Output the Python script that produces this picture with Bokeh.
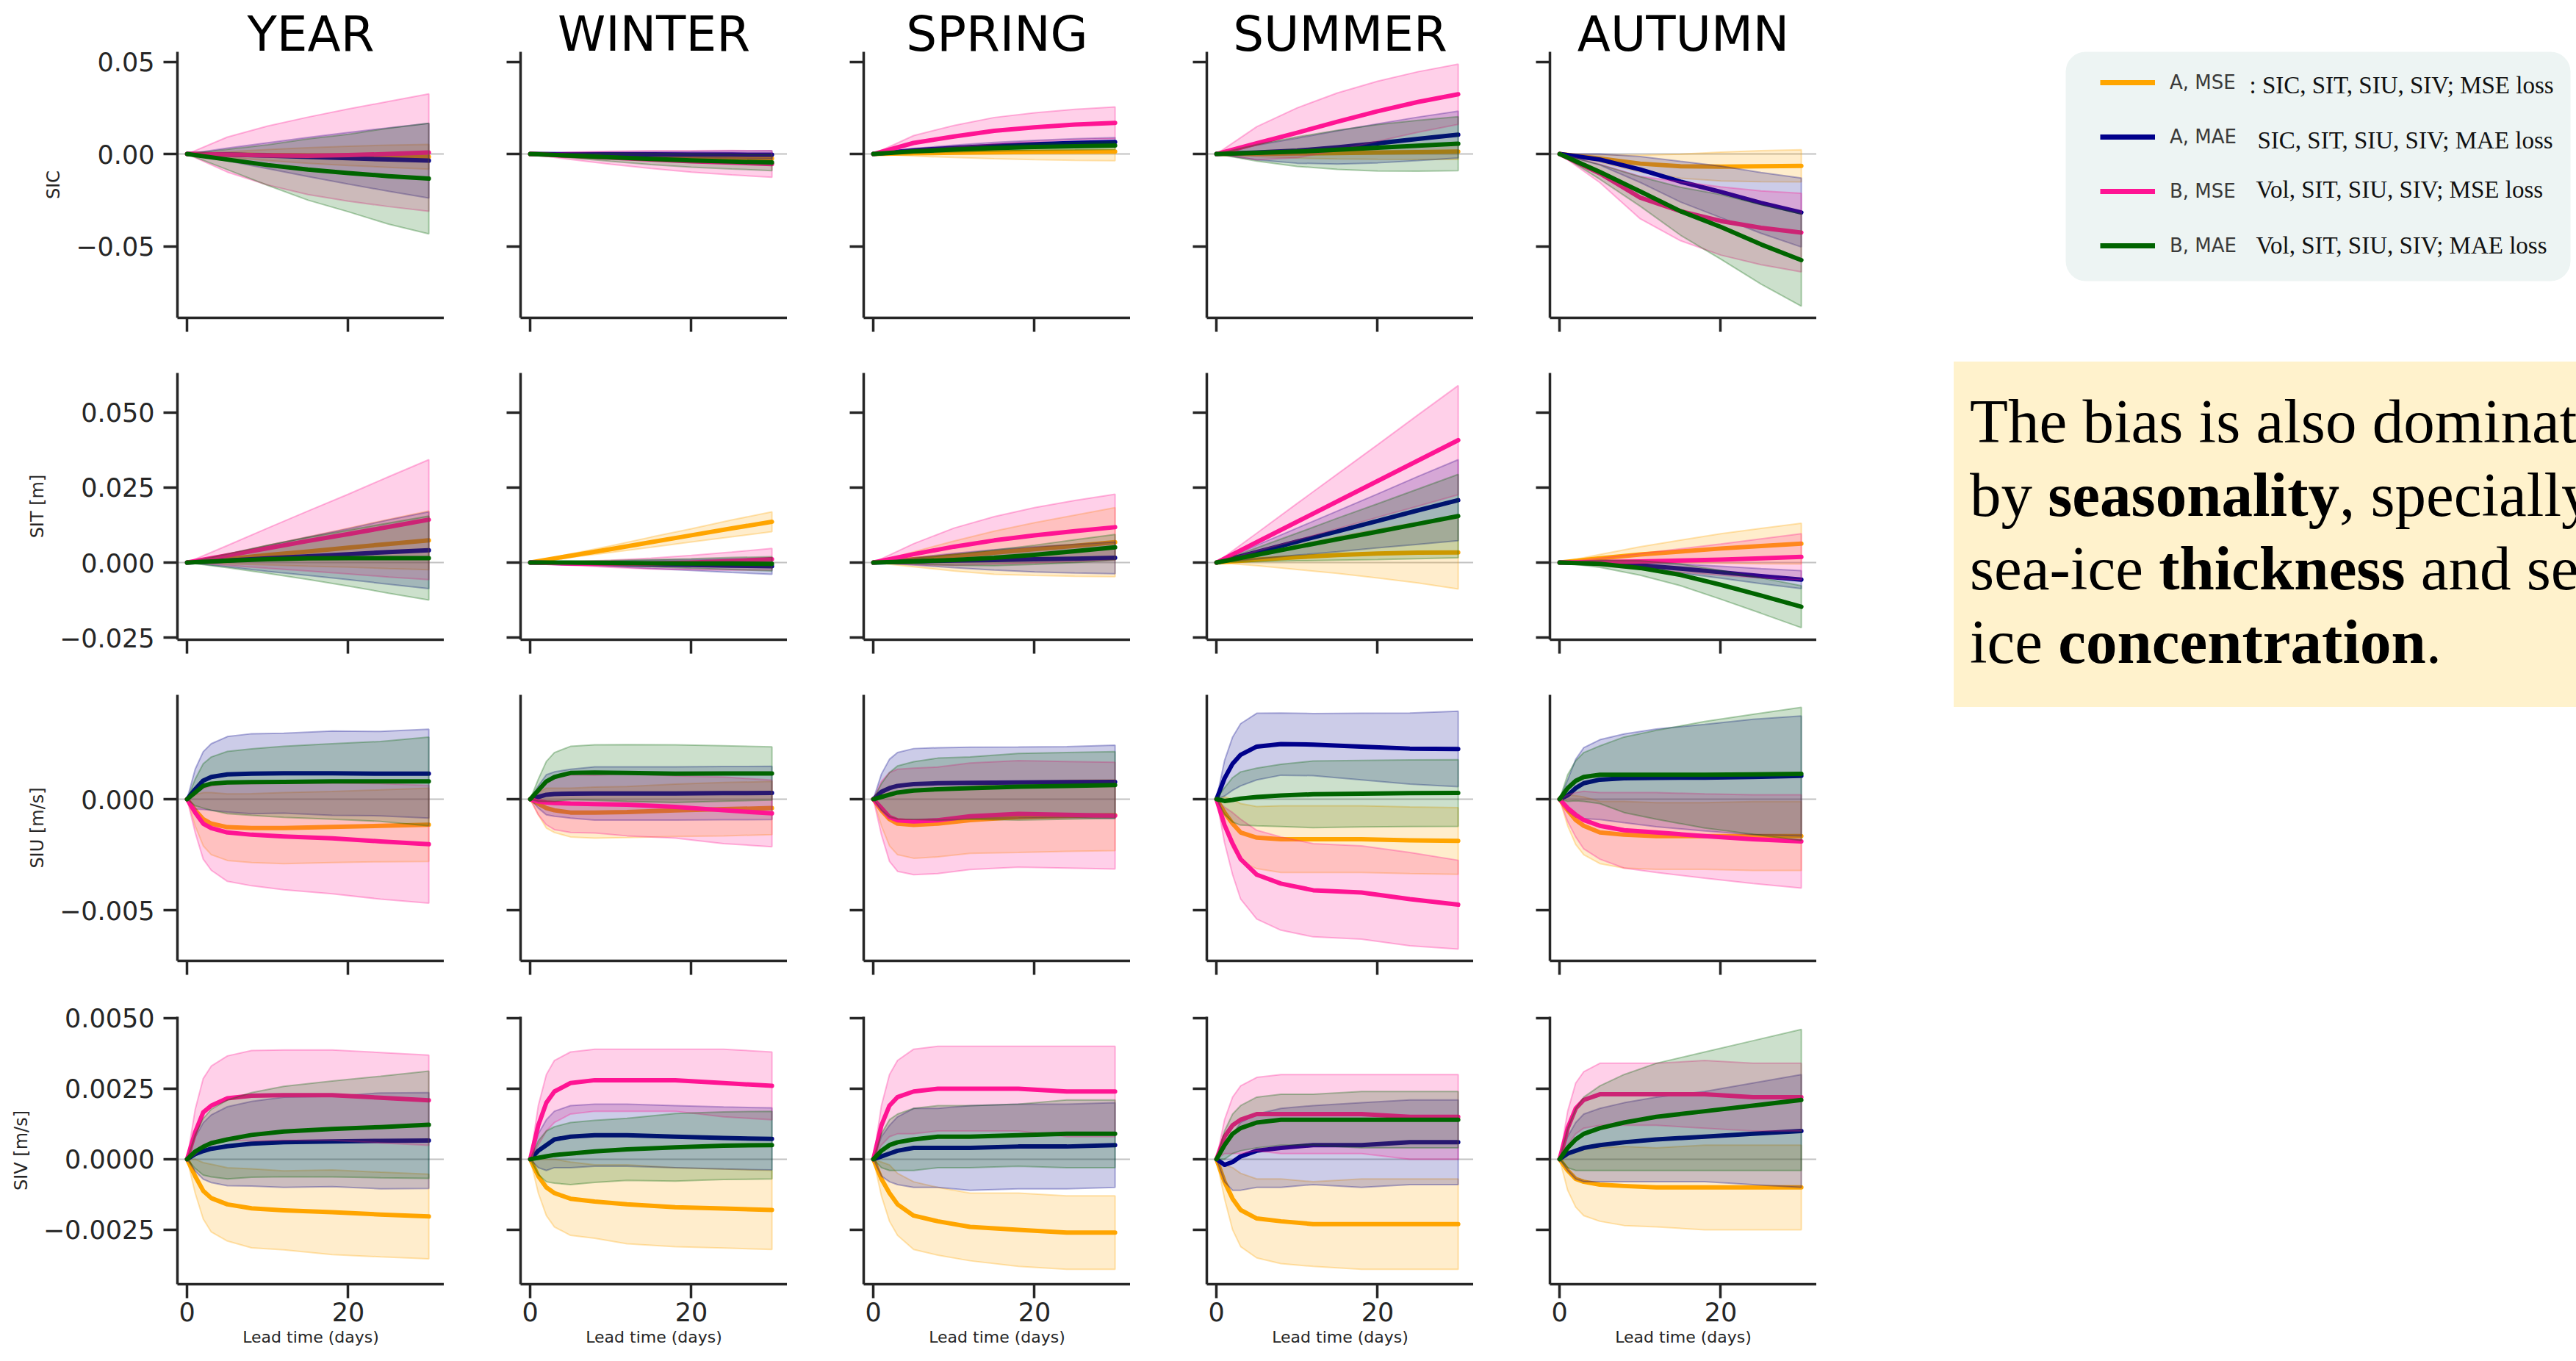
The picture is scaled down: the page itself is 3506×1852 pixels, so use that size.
from bokeh.plotting import figure
from bokeh.models import (Range1d, FixedTicker, Span, Label, Legend, LegendItem,
                          BoxAnnotation, Div, Spacer)
from bokeh.layouts import row, column
from bokeh.embed import file_html
from bokeh.resources import INLINE

# ---------------------------------------------------------------- labels
SEASONS = ["YEAR", "WINTER", "SPRING", "SUMMER", "AUTUMN"]
VARIABLES = ["SIC", "SIT", "SIU", "SIV"]
Y_LABELS = ["SIC", "SIT [m]", "SIU [m/s]", "SIV [m/s]"]
MODELS = ["A, MSE", "A, MAE", "B, MSE", "B, MAE"]
DESCRIPTIONS = [": SIC, SIT, SIU, SIV; MSE loss", "SIC, SIT, SIU, SIV; MAE loss",
                "Vol, SIT, SIU, SIV; MSE loss", "Vol, SIT, SIU, SIV; MAE loss"]
COLORS = ["#FFA500", "#00008B", "#FF1493", "#006400"]
X_TICKS = [0, 20]
X_LABEL = "Lead time (days)"
Y_TICKS = [[-0.05, 0.0, 0.05],
           [-0.025, 0.0, 0.025, 0.05],
           [-0.005, 0.0],
           [-0.0025, 0.0, 0.0025, 0.005]]
Y_TICK_LABELS = [["\u22120.05", "0.00", "0.05"],
                 ["\u22120.025", "0.000", "0.025", "0.050"],
                 ["\u22120.005", "0.000"],
                 ["\u22120.0025", "0.0000", "0.0025", "0.0050"]]
Y_LIMITS = [(-0.0888, 0.0554), (-0.0257, 0.0632), (-0.00728, 0.0047), (-0.00443, 0.00505)]
TEXT_HTML = ("The bias is also dominated<br>by <b>seasonality</b>, specially<br>"
             "sea-ice <b>thickness</b> and sea-<br>ice <b>concentration</b>.")

# lead times (days) at which the curves were read
LEAD_SLOW = [0, 5, 10, 15, 20, 25, 30]
LEAD_FAST = [0, 1, 2, 3, 5, 8, 12, 18, 24, 30]

# ---------------------------------------------------------------- SIC (order: A MSE, A MAE, B MSE, B MAE)
sic_year_mean = [[0, -0.0003, -0.0006, -0.0008, -0.0010, -0.0012, -0.0015],
                 [0, -0.0003, -0.0009, -0.0016, -0.0023, -0.0030, -0.0036],
                 [0, -0.0003, -0.0008, -0.0010, -0.0006, 0.0000, 0.0008],
                 [0, -0.0030, -0.0060, -0.0084, -0.0103, -0.0120, -0.0133]]
sic_year_sd = [[0, 0.0015, 0.0030, 0.0042, 0.0052, 0.0060, 0.0067],
               [0, 0.0035, 0.0070, 0.0106, 0.0140, 0.0172, 0.0203],
               [0, 0.0095, 0.0160, 0.0210, 0.0250, 0.0285, 0.0318],
               [0, 0.0055, 0.0110, 0.0166, 0.0210, 0.0260, 0.0300]]
sic_winter_mean = [[0, -0.0004, -0.0008, -0.0012, -0.0016, -0.0020, -0.0024],
                   [0, -0.0001, -0.0001, -0.0002, -0.0003, -0.0003, -0.0004],
                   [0, -0.0010, -0.0020, -0.0030, -0.0040, -0.0047, -0.0054],
                   [0, -0.0009, -0.0018, -0.0027, -0.0035, -0.0041, -0.0046]]
sic_winter_sd = [[0, 0.0006, 0.0010, 0.0013, 0.0016, 0.0018, 0.0020],
                 [0, 0.0006, 0.0010, 0.0014, 0.0017, 0.0020, 0.0022],
                 [0, 0.0020, 0.0035, 0.0048, 0.0058, 0.0066, 0.0072],
                 [0, 0.0012, 0.0022, 0.0030, 0.0036, 0.0040, 0.0044]]
sic_spring_mean = [[0, 0.0004, 0.0007, 0.0009, 0.0011, 0.0012, 0.0013],
                   [0, 0.0020, 0.0033, 0.0044, 0.0053, 0.0060, 0.0065],
                   [0, 0.0060, 0.0095, 0.0126, 0.0145, 0.0160, 0.0169],
                   [0, 0.0014, 0.0024, 0.0032, 0.0038, 0.0042, 0.0046]]
sic_spring_sd = [[0, 0.0015, 0.0026, 0.0035, 0.0042, 0.0047, 0.0050],
                 [0, 0.0010, 0.0015, 0.0019, 0.0021, 0.0023, 0.0024],
                 [0, 0.0040, 0.0060, 0.0072, 0.0078, 0.0082, 0.0086],
                 [0, 0.0008, 0.0013, 0.0016, 0.0018, 0.0020, 0.0021]]
sic_summer_mean = [[0, 0.0001, 0.0003, 0.0005, 0.0008, 0.0010, 0.0013],
                   [0, 0.0008, 0.0018, 0.0036, 0.0058, 0.0082, 0.0105],
                   [0, 0.0058, 0.0115, 0.0175, 0.0232, 0.0282, 0.0324],
                   [0, 0.0006, 0.0013, 0.0023, 0.0034, 0.0045, 0.0056]]
sic_summer_sd = [[0, 0.0015, 0.0025, 0.0032, 0.0037, 0.0040, 0.0043],
                 [0, 0.0040, 0.0068, 0.0090, 0.0106, 0.0118, 0.0127],
                 [0, 0.0090, 0.0135, 0.0156, 0.0163, 0.0164, 0.0163],
                 [0, 0.0045, 0.0080, 0.0106, 0.0126, 0.0138, 0.0146]]
sic_autumn_mean = [[0, -0.0025, -0.0052, -0.0066, -0.0068, -0.0066, -0.0064],
                   [0, -0.0030, -0.0084, -0.0150, -0.0205, -0.0265, -0.0317],
                   [0, -0.0105, -0.0236, -0.0310, -0.0363, -0.0400, -0.0426],
                   [0, -0.0097, -0.0203, -0.0310, -0.0395, -0.0490, -0.0575]]
sic_autumn_sd = [[0, 0.0020, 0.0045, 0.0065, 0.0078, 0.0084, 0.0087],
                 [0, 0.0030, 0.0070, 0.0110, 0.0140, 0.0165, 0.0187],
                 [0, 0.0050, 0.0115, 0.0160, 0.0185, 0.0200, 0.0213],
                 [0, 0.0040, 0.0080, 0.0130, 0.0175, 0.0215, 0.0250]]

# ---------------------------------------------------------------- SIT [m]
sit_year_mean = [[0, 0.0012, 0.0025, 0.0037, 0.0050, 0.0062, 0.0074],
                 [0, 0.0007, 0.0014, 0.0021, 0.0028, 0.0035, 0.0041],
                 [0, 0.0024, 0.0048, 0.0072, 0.0095, 0.0119, 0.0143],
                 [0, 0.0006, 0.0011, 0.0014, 0.0015, 0.0015, 0.0015]]
sit_year_sd = [[0, 0.0016, 0.0033, 0.0049, 0.0065, 0.0082, 0.0098],
               [0, 0.0021, 0.0043, 0.0064, 0.0085, 0.0107, 0.0128],
               [0, 0.0033, 0.0067, 0.0100, 0.0133, 0.0167, 0.0200],
               [0, 0.0023, 0.0047, 0.0070, 0.0093, 0.0117, 0.0140]]
sit_winter_mean = [[0, 0.0023, 0.0045, 0.0068, 0.0091, 0.0114, 0.0136],
                   [0, -0.0002, -0.0004, -0.0006, -0.0008, -0.0010, -0.0012],
                   [0, -0.0003, -0.0004, -0.0003, 0.0000, 0.0005, 0.0011],
                   [0, 0.0000, -0.0001, -0.0002, -0.0003, -0.0003, -0.0004]]
sit_winter_sd = [[0, 0.0006, 0.0011, 0.0017, 0.0022, 0.0028, 0.0033],
                 [0, 0.0005, 0.0009, 0.0014, 0.0018, 0.0023, 0.0027],
                 [0, 0.0006, 0.0012, 0.0018, 0.0024, 0.0030, 0.0036],
                 [0, 0.0004, 0.0008, 0.0012, 0.0016, 0.0020, 0.0024]]
sit_spring_mean = [[0, 0.0011, 0.0022, 0.0033, 0.0045, 0.0056, 0.0068],
                   [0, 0.0004, 0.0007, 0.0009, 0.0011, 0.0013, 0.0016],
                   [0, 0.0028, 0.0053, 0.0074, 0.0091, 0.0105, 0.0118],
                   [0, 0.0004, 0.0009, 0.0016, 0.0026, 0.0038, 0.0051]]
sit_spring_sd = [[0, 0.0025, 0.0050, 0.0072, 0.0088, 0.0102, 0.0115],
                 [0, 0.0012, 0.0024, 0.0034, 0.0042, 0.0048, 0.0053],
                 [0, 0.0035, 0.0062, 0.0079, 0.0092, 0.0102, 0.0110],
                 [0, 0.0009, 0.0018, 0.0026, 0.0032, 0.0038, 0.0043]]
sit_summer_mean = [[0, 0.0010, 0.0018, 0.0025, 0.0030, 0.0033, 0.0034],
                   [0, 0.0035, 0.0070, 0.0104, 0.0139, 0.0174, 0.0208],
                   [0, 0.0068, 0.0136, 0.0204, 0.0272, 0.0340, 0.0408],
                   [0, 0.0026, 0.0052, 0.0078, 0.0103, 0.0129, 0.0155]]
sit_summer_sd = [[0, 0.0020, 0.0041, 0.0061, 0.0081, 0.0101, 0.0122],
                 [0, 0.0023, 0.0045, 0.0068, 0.0090, 0.0113, 0.0135],
                 [0, 0.0030, 0.0061, 0.0091, 0.0121, 0.0152, 0.0182],
                 [0, 0.0023, 0.0046, 0.0070, 0.0093, 0.0116, 0.0139]]
sit_autumn_mean = [[0, 0.0014, 0.0027, 0.0037, 0.0047, 0.0055, 0.0063],
                   [0, -0.0002, -0.0009, -0.0020, -0.0032, -0.0045, -0.0057],
                   [0, 0.0002, 0.0004, 0.0007, 0.0010, 0.0014, 0.0019],
                   [0, -0.0004, -0.0018, -0.0041, -0.0074, -0.0110, -0.0147]]
sit_autumn_sd = [[0, 0.0013, 0.0026, 0.0038, 0.0049, 0.0059, 0.0068],
                 [0, 0.0005, 0.0010, 0.0015, 0.0020, 0.0025, 0.0030],
                 [0, 0.0013, 0.0026, 0.0039, 0.0052, 0.0065, 0.0077],
                 [0, 0.0012, 0.0024, 0.0036, 0.0048, 0.0059, 0.0070]]

# ---------------------------------------------------------------- SIU [m/s]
siu_year_mean = [[0, -0.0005, -0.0009, -0.0011, -0.00126, -0.0013, -0.0013, -0.00125, -0.0012, -0.00115],
                 [0, 0.00045, 0.00084, 0.0010, 0.00112, 0.00115, 0.00117, 0.00117, 0.00115, 0.00115],
                 [0, -0.0006, -0.0011, -0.0013, -0.0015, -0.0016, -0.00168, -0.00176, -0.0019, -0.00203],
                 [0, 0.0003, 0.0006, 0.0007, 0.00075, 0.00077, 0.00078, 0.0008, 0.0008, 0.0008]]
siu_year_sd = [[0, 0.0007, 0.0012, 0.0014, 0.0015, 0.00155, 0.0016, 0.0016, 0.00162, 0.00165],
               [0, 0.0009, 0.0013, 0.0015, 0.0017, 0.0018, 0.0018, 0.0019, 0.0019, 0.0020],
               [0, 0.0009, 0.0016, 0.0019, 0.0022, 0.0023, 0.0024, 0.0025, 0.0026, 0.00265],
               [0, 0.0006, 0.0010, 0.0012, 0.0014, 0.0015, 0.0016, 0.0017, 0.0018, 0.0020]]
siu_winter_mean = [[0, -0.0002, -0.0004, -0.0005, -0.0006, -0.0006, -0.00058, -0.0005, -0.00045, -0.0004],
                   [0, 0.0001, 0.0002, 0.00023, 0.00025, 0.00026, 0.00026, 0.00026, 0.00027, 0.00028],
                   [0, -0.0001, -0.00015, -0.00017, -0.0002, -0.00022, -0.00025, -0.00035, -0.0005, -0.00064],
                   [0, 0.0004, 0.0008, 0.0010, 0.00118, 0.0012, 0.00118, 0.00115, 0.00116, 0.00116]]
siu_winter_sd = [[0, 0.0005, 0.0009, 0.0010, 0.0011, 0.00115, 0.00115, 0.00118, 0.0012, 0.0012],
                 [0, 0.0005, 0.0009, 0.0010, 0.0011, 0.0012, 0.0012, 0.0012, 0.0012, 0.0012],
                 [0, 0.0006, 0.0010, 0.0012, 0.0013, 0.0013, 0.0014, 0.0014, 0.0015, 0.0015],
                 [0, 0.0005, 0.0009, 0.0011, 0.0012, 0.00125, 0.00128, 0.0013, 0.00125, 0.0012]]
siu_spring_mean = [[0, -0.0005, -0.0009, -0.0011, -0.00116, -0.0011, -0.00094, -0.0008, -0.00075, -0.00072],
                   [0, 0.00033, 0.0005, 0.0006, 0.00068, 0.00072, 0.00074, 0.00075, 0.00077, 0.00078],
                   [0, -0.0004, -0.0008, -0.00095, -0.0010, -0.00095, -0.00077, -0.00066, -0.0007, -0.00074],
                   [0, 0.0001, 0.0002, 0.0003, 0.00039, 0.00045, 0.0005, 0.00056, 0.0006, 0.00064]]
siu_spring_sd = [[0, 0.0007, 0.0012, 0.0014, 0.0015, 0.0015, 0.0015, 0.0016, 0.0016, 0.0016],
                 [0, 0.0008, 0.0013, 0.0015, 0.0016, 0.0016, 0.0016, 0.0016, 0.0016, 0.00165],
                 [0, 0.0012, 0.0020, 0.0023, 0.0024, 0.0024, 0.0024, 0.0024, 0.0024, 0.0024],
                 [0, 0.0006, 0.0010, 0.0012, 0.0013, 0.0014, 0.0014, 0.0015, 0.0015, 0.0015]]
siu_summer_mean = [[0, -0.0006, -0.0011, -0.0015, -0.00173, -0.0018, -0.0018, -0.0018, -0.00185, -0.00188],
                   [0, 0.00094, 0.0016, 0.0020, 0.00237, 0.00248, 0.00246, 0.00237, 0.00228, 0.00226],
                   [0, -0.00116, -0.0020, -0.0027, -0.0034, -0.0038, -0.0041, -0.0042, -0.0045, -0.00475],
                   [0, -0.00008, -0.00003, 0.00003, 0.0001, 0.00017, 0.00022, 0.00025, 0.00027, 0.00028]]
siu_summer_sd = [[0, 0.0007, 0.0011, 0.0013, 0.0014, 0.0015, 0.0015, 0.0015, 0.0015, 0.0015],
                 [0, 0.0008, 0.0012, 0.0014, 0.0015, 0.0014, 0.0014, 0.0015, 0.0016, 0.0017],
                 [0, 0.0008, 0.0014, 0.0018, 0.0020, 0.0021, 0.0021, 0.0021, 0.0021, 0.0020],
                 [0, 0.0006, 0.0010, 0.0012, 0.0013, 0.0014, 0.0015, 0.0015, 0.0015, 0.0015]]
siu_autumn_mean = [[0, -0.0005, -0.00094, -0.0012, -0.0015, -0.0016, -0.00166, -0.00166, -0.00166, -0.00166],
                   [0, 0.00017, 0.0005, 0.00072, 0.00088, 0.00094, 0.00096, 0.00097, 0.0010, 0.00105],
                   [0, -0.0004, -0.0007, -0.00094, -0.0012, -0.0014, -0.0015, -0.00166, -0.0018, -0.0019],
                   [0, 0.0005, 0.00083, 0.0010, 0.0011, 0.0011, 0.0011, 0.0011, 0.00112, 0.00114]]
siu_autumn_sd = [[0, 0.0007, 0.0011, 0.0013, 0.0014, 0.0015, 0.0015, 0.0015, 0.00155, 0.00155],
                 [0, 0.0007, 0.0013, 0.0016, 0.0018, 0.0020, 0.0022, 0.0024, 0.0026, 0.0027],
                 [0, 0.0006, 0.0010, 0.0013, 0.0015, 0.0017, 0.0018, 0.0019, 0.0020, 0.0021],
                 [0, 0.0006, 0.0009, 0.0011, 0.0013, 0.0017, 0.0020, 0.0024, 0.0027, 0.0030]]

# ---------------------------------------------------------------- SIV [m/s]
siv_year_mean = [[0, -0.0006, -0.00112, -0.00138, -0.0016, -0.00174, -0.00181, -0.00188, -0.00196, -0.00203],
                 [0, 0.00018, 0.00029, 0.00037, 0.00046, 0.00055, 0.0006, 0.00063, 0.00065, 0.00066],
                 [0, 0.00096, 0.00166, 0.0019, 0.00216, 0.00225, 0.00227, 0.00227, 0.00218, 0.00209],
                 [0, 0.00027, 0.00044, 0.00057, 0.0007, 0.00086, 0.00098, 0.00107, 0.00114, 0.00122]]
siv_year_sd = [[0, 0.0006, 0.0010, 0.0012, 0.0013, 0.0014, 0.0014, 0.0015, 0.0015, 0.0015],
               [0, 0.0006, 0.0010, 0.0012, 0.0014, 0.0015, 0.0016, 0.0016, 0.0017, 0.0017],
               [0, 0.0008, 0.0012, 0.0014, 0.0015, 0.0016, 0.0016, 0.0016, 0.0016, 0.0016],
               [0, 0.0006, 0.0010, 0.0012, 0.0014, 0.0015, 0.0016, 0.0017, 0.0018, 0.0019]]
siv_winter_mean = [[0, -0.0006, -0.0010, -0.0012, -0.0014, -0.0015, -0.0016, -0.0017, -0.00175, -0.0018],
                   [0, 0.0003, 0.0005, 0.0007, 0.0008, 0.00085, 0.00085, 0.0008, 0.00075, 0.00072],
                   [0, 0.0012, 0.0020, 0.0024, 0.0027, 0.0028, 0.0028, 0.0028, 0.0027, 0.0026],
                   [0, 0.00005, 0.0001, 0.00015, 0.0002, 0.00028, 0.00035, 0.00042, 0.00048, 0.0005]]
siv_winter_sd = [[0, 0.0006, 0.0010, 0.0012, 0.0013, 0.0013, 0.0014, 0.0014, 0.0014, 0.0014],
                 [0, 0.0006, 0.0009, 0.0010, 0.0011, 0.0011, 0.0011, 0.0011, 0.0011, 0.0011],
                 [0, 0.0007, 0.0010, 0.0011, 0.0011, 0.0011, 0.0011, 0.0011, 0.0012, 0.0012],
                 [0, 0.0006, 0.0009, 0.0010, 0.0011, 0.0011, 0.0011, 0.0012, 0.0012, 0.0012]]
siv_spring_mean = [[0, -0.0007, -0.0012, -0.0016, -0.0020, -0.0022, -0.0024, -0.0025, -0.0026, -0.0026],
                   [0, 0.0001, 0.0002, 0.0003, 0.0004, 0.0004, 0.0004, 0.00045, 0.00045, 0.0005],
                   [0, 0.0012, 0.0019, 0.0022, 0.0024, 0.0025, 0.0025, 0.0025, 0.0024, 0.0024],
                   [0, 0.0003, 0.0005, 0.0006, 0.0007, 0.0008, 0.0008, 0.00085, 0.0009, 0.0009]]
siv_spring_sd = [[0, 0.0006, 0.0010, 0.0011, 0.0012, 0.0012, 0.0012, 0.0013, 0.0013, 0.0013],
                 [0, 0.0007, 0.0010, 0.0012, 0.0014, 0.0014, 0.0015, 0.0015, 0.0015, 0.0015],
                 [0, 0.0007, 0.0011, 0.0013, 0.0015, 0.0015, 0.0015, 0.0015, 0.0016, 0.0016],
                 [0, 0.0006, 0.0009, 0.0010, 0.0011, 0.0011, 0.0011, 0.0011, 0.0012, 0.0012]]
siv_summer_mean = [[0, -0.0008, -0.0014, -0.0018, -0.0021, -0.0022, -0.0023, -0.0023, -0.0023, -0.0023],
                   [0, -0.0002, -0.0001, 0.0001, 0.0003, 0.0004, 0.0005, 0.0005, 0.0006, 0.0006],
                   [0, 0.0008, 0.0012, 0.0014, 0.0016, 0.0016, 0.0016, 0.0016, 0.0015, 0.0015],
                   [0, 0.0005, 0.0009, 0.0011, 0.0013, 0.0014, 0.0014, 0.0014, 0.0014, 0.0014]]
siv_summer_sd = [[0, 0.0006, 0.0011, 0.0013, 0.0014, 0.0015, 0.0015, 0.0016, 0.0016, 0.0016],
                 [0, 0.0006, 0.0010, 0.0012, 0.0013, 0.0014, 0.0014, 0.0015, 0.0015, 0.0015],
                 [0, 0.0006, 0.0010, 0.0012, 0.0013, 0.0014, 0.0014, 0.0014, 0.0015, 0.0015],
                 [0, 0.0005, 0.0007, 0.0008, 0.0009, 0.0009, 0.0009, 0.0010, 0.0010, 0.0010]]
siv_autumn_mean = [[0, -0.0004, -0.0007, -0.0008, -0.0009, -0.00095, -0.0010, -0.0010, -0.0010, -0.0010],
                   [0, 0.0002, 0.0003, 0.0004, 0.0005, 0.0006, 0.0007, 0.0008, 0.0009, 0.0010],
                   [0, 0.0011, 0.0018, 0.0021, 0.0023, 0.0023, 0.0023, 0.0023, 0.0022, 0.0022],
                   [0, 0.0004, 0.0007, 0.0009, 0.0011, 0.0013, 0.0015, 0.0017, 0.0019, 0.0021]]
siv_autumn_sd = [[0, 0.0007, 0.0010, 0.0012, 0.0013, 0.0014, 0.0014, 0.0015, 0.0015, 0.0015],
                 [0, 0.0006, 0.0010, 0.0012, 0.0013, 0.0014, 0.0015, 0.0016, 0.0018, 0.0020],
                 [0, 0.0006, 0.0009, 0.0010, 0.0011, 0.0011, 0.0011, 0.0012, 0.0012, 0.0012],
                 [0, 0.0007, 0.0011, 0.0013, 0.0015, 0.0017, 0.0019, 0.0021, 0.0023, 0.0025]]

DATA = {
    ("SIC", "YEAR"): (sic_year_mean, sic_year_sd), ("SIC", "WINTER"): (sic_winter_mean, sic_winter_sd),
    ("SIC", "SPRING"): (sic_spring_mean, sic_spring_sd), ("SIC", "SUMMER"): (sic_summer_mean, sic_summer_sd),
    ("SIC", "AUTUMN"): (sic_autumn_mean, sic_autumn_sd),
    ("SIT", "YEAR"): (sit_year_mean, sit_year_sd), ("SIT", "WINTER"): (sit_winter_mean, sit_winter_sd),
    ("SIT", "SPRING"): (sit_spring_mean, sit_spring_sd), ("SIT", "SUMMER"): (sit_summer_mean, sit_summer_sd),
    ("SIT", "AUTUMN"): (sit_autumn_mean, sit_autumn_sd),
    ("SIU", "YEAR"): (siu_year_mean, siu_year_sd), ("SIU", "WINTER"): (siu_winter_mean, siu_winter_sd),
    ("SIU", "SPRING"): (siu_spring_mean, siu_spring_sd), ("SIU", "SUMMER"): (siu_summer_mean, siu_summer_sd),
    ("SIU", "AUTUMN"): (siu_autumn_mean, siu_autumn_sd),
    ("SIV", "YEAR"): (siv_year_mean, siv_year_sd), ("SIV", "WINTER"): (siv_winter_mean, siv_winter_sd),
    ("SIV", "SPRING"): (siv_spring_mean, siv_spring_sd), ("SIV", "SUMMER"): (siv_summer_mean, siv_summer_sd),
    ("SIV", "AUTUMN"): (siv_autumn_mean, siv_autumn_sd),
}

# ---------------------------------------------------------------- layout constants (pixels)
FONT = "DejaVu Sans"
INK = "#262626"
X_LIMITS = (-1.2, 31.9)
ROW_TOP = [70, 25, 25, 25]
ROW_FRAME = [362, 363, 362, 364]
ROW_BOTTOM = [50, 50, 51, 105]
COL_LEFT = [241, 104, 104, 104, 104]
FRAME_W = 363


def style_axis(ax, show_labels):
    ax.axis_line_width = 3.5
    ax.axis_line_color = INK
    ax.major_tick_line_width = 3.5
    ax.major_tick_line_color = INK
    ax.major_tick_out = 19
    ax.major_tick_in = 0
    ax.minor_tick_line_color = None
    ax.major_label_text_font = FONT
    ax.major_label_text_color = INK
    ax.major_label_text_font_size = "35px" if show_labels else "0px"


def make_panel(r, c):
    var, season = VARIABLES[r], SEASONS[c]
    lead = LEAD_SLOW if r < 2 else LEAD_FAST
    means, sds = DATA[(var, season)]
    p = figure(width=COL_LEFT[c] + FRAME_W, height=ROW_TOP[r] + ROW_FRAME[r] + ROW_BOTTOM[r],
               x_range=Range1d(*X_LIMITS), y_range=Range1d(*Y_LIMITS[r]),
               output_backend="svg", toolbar_location=None,
               min_border_left=COL_LEFT[c], min_border_right=0,
               min_border_top=ROW_TOP[r], min_border_bottom=ROW_BOTTOM[r])
    p.outline_line_color = None
    p.xgrid.visible = False
    p.ygrid.visible = False
    p.background_fill_color = "white"
    p.border_fill_color = "white"

    if r == 0:
        p.title.text = season
        p.title.align = "center"
        p.title.text_font = FONT
        p.title.text_font_size = "66px"
        p.title.text_font_style = "normal"
        p.title.text_color = "black"
        p.title.standoff = -28

    xa, ya = p.xaxis[0], p.yaxis[0]
    xa.ticker = FixedTicker(ticks=X_TICKS)
    ya.ticker = FixedTicker(ticks=Y_TICKS[r])
    style_axis(xa, r == 3)
    style_axis(ya, c == 0)
    xa.major_label_standoff = 5
    ya.major_label_standoff = 12
    if c == 0:
        ya.major_label_overrides = {t: s for t, s in zip(Y_TICKS[r], Y_TICK_LABELS[r])}
        ya.axis_label = Y_LABELS[r]
        ya.axis_label_text_font = FONT
        ya.axis_label_text_font_size = "24px"
        ya.axis_label_text_font_style = "normal"
        ya.axis_label_text_color = INK
        ya.axis_label_standoff = 13
    else:
        ya.major_label_overrides = {t: "" for t in Y_TICKS[r]}
    if r == 3:
        xa.axis_label = X_LABEL
        xa.axis_label_text_font = FONT
        xa.axis_label_text_font_size = "22px"
        xa.axis_label_text_font_style = "normal"
        xa.axis_label_text_color = INK
        xa.axis_label_standoff = 6
    else:
        xa.major_label_overrides = {t: "" for t in X_TICKS}

    p.add_layout(Span(location=0, dimension="width", line_color="#9a9a9a",
                      line_alpha=0.6, line_width=2, level="underlay"))

    for k in range(len(MODELS)):
        m, s = means[k], sds[k]
        hi = [a + b for a, b in zip(m, s)]
        lo = [a - b for a, b in zip(m, s)]
        p.patch(lead + lead[::-1], hi + lo[::-1], fill_color=COLORS[k], fill_alpha=0.2,
                line_color=COLORS[k], line_alpha=0.3, line_width=2)
        p.line(lead, m, line_color=COLORS[k], line_width=6,
               line_join="round", line_cap="round")
    return p


grid = column(*[row(*[make_panel(r, c) for c in range(5)]) for r in range(4)])

# ---------------------------------------------------------------- legend panel
RIGHT_W = 1034
lf = figure(width=RIGHT_W, height=492, x_range=Range1d(0, RIGHT_W), y_range=Range1d(492, 0),
            output_backend="svg", toolbar_location=None, min_border=0)
lf.axis.visible = False
lf.xgrid.visible = False
lf.ygrid.visible = False
lf.outline_line_color = None
lf.background_fill_color = "white"
lf.border_fill_color = "white"
lf.add_layout(BoxAnnotation(left=339, right=1026, top=70, bottom=382, fill_color="#EDF4F3",
                            fill_alpha=1.0, line_color=None, border_radius=27, level="underlay"))
# legend-only renderers: a single off-screen point draws nothing in the panel
swatches = [lf.line(x=[-100], y=[-100], line_color=col, line_width=7) for col in COLORS]
legend = Legend(items=[LegendItem(label=m, renderers=[rr]) for m, rr in zip(MODELS, swatches)],
                location=(386, 143), orientation="vertical", padding=0, margin=0, spacing=44,
                glyph_width=75, glyph_height=20, label_height=20, label_standoff=20,
                label_text_font=FONT, label_text_font_size="26px", label_text_color="#3a3a3a",
                border_line_color=None, background_fill_alpha=0)
lf.add_layout(legend)
for txt, xx, yy in zip(DESCRIPTIONS, [589, 600, 598, 598], [115, 190, 257, 333]):
    lf.add_layout(Label(x=xx, y=yy, text=txt, text_baseline="middle",
                        text_font="Liberation Serif", text_font_size="33px", text_color="#111111"))

# ---------------------------------------------------------------- text box
box_html = ('<div style="background:#FFF2CC;width:847px;height:470px;box-sizing:border-box;'
            'padding:31px 0 0 22px;font-family:\'Liberation Serif\',serif;font-size:85px;'
            'line-height:100px;color:#000;white-space:nowrap;overflow:hidden;">'
            + TEXT_HTML + '</div>')
text_div = Div(text=box_html, width=847, height=470, margin=0)

right = column(lf, row(Spacer(width=RIGHT_W - 847, height=470), text_div))
layout = row(grid, right)

html = file_html(layout, INLINE, title="Bias by season")
html = html.replace("<head>", "<head><style>html,body{margin:0;padding:0;background:#fff;}</style>", 1)
open("out.html", "w").write(html)
